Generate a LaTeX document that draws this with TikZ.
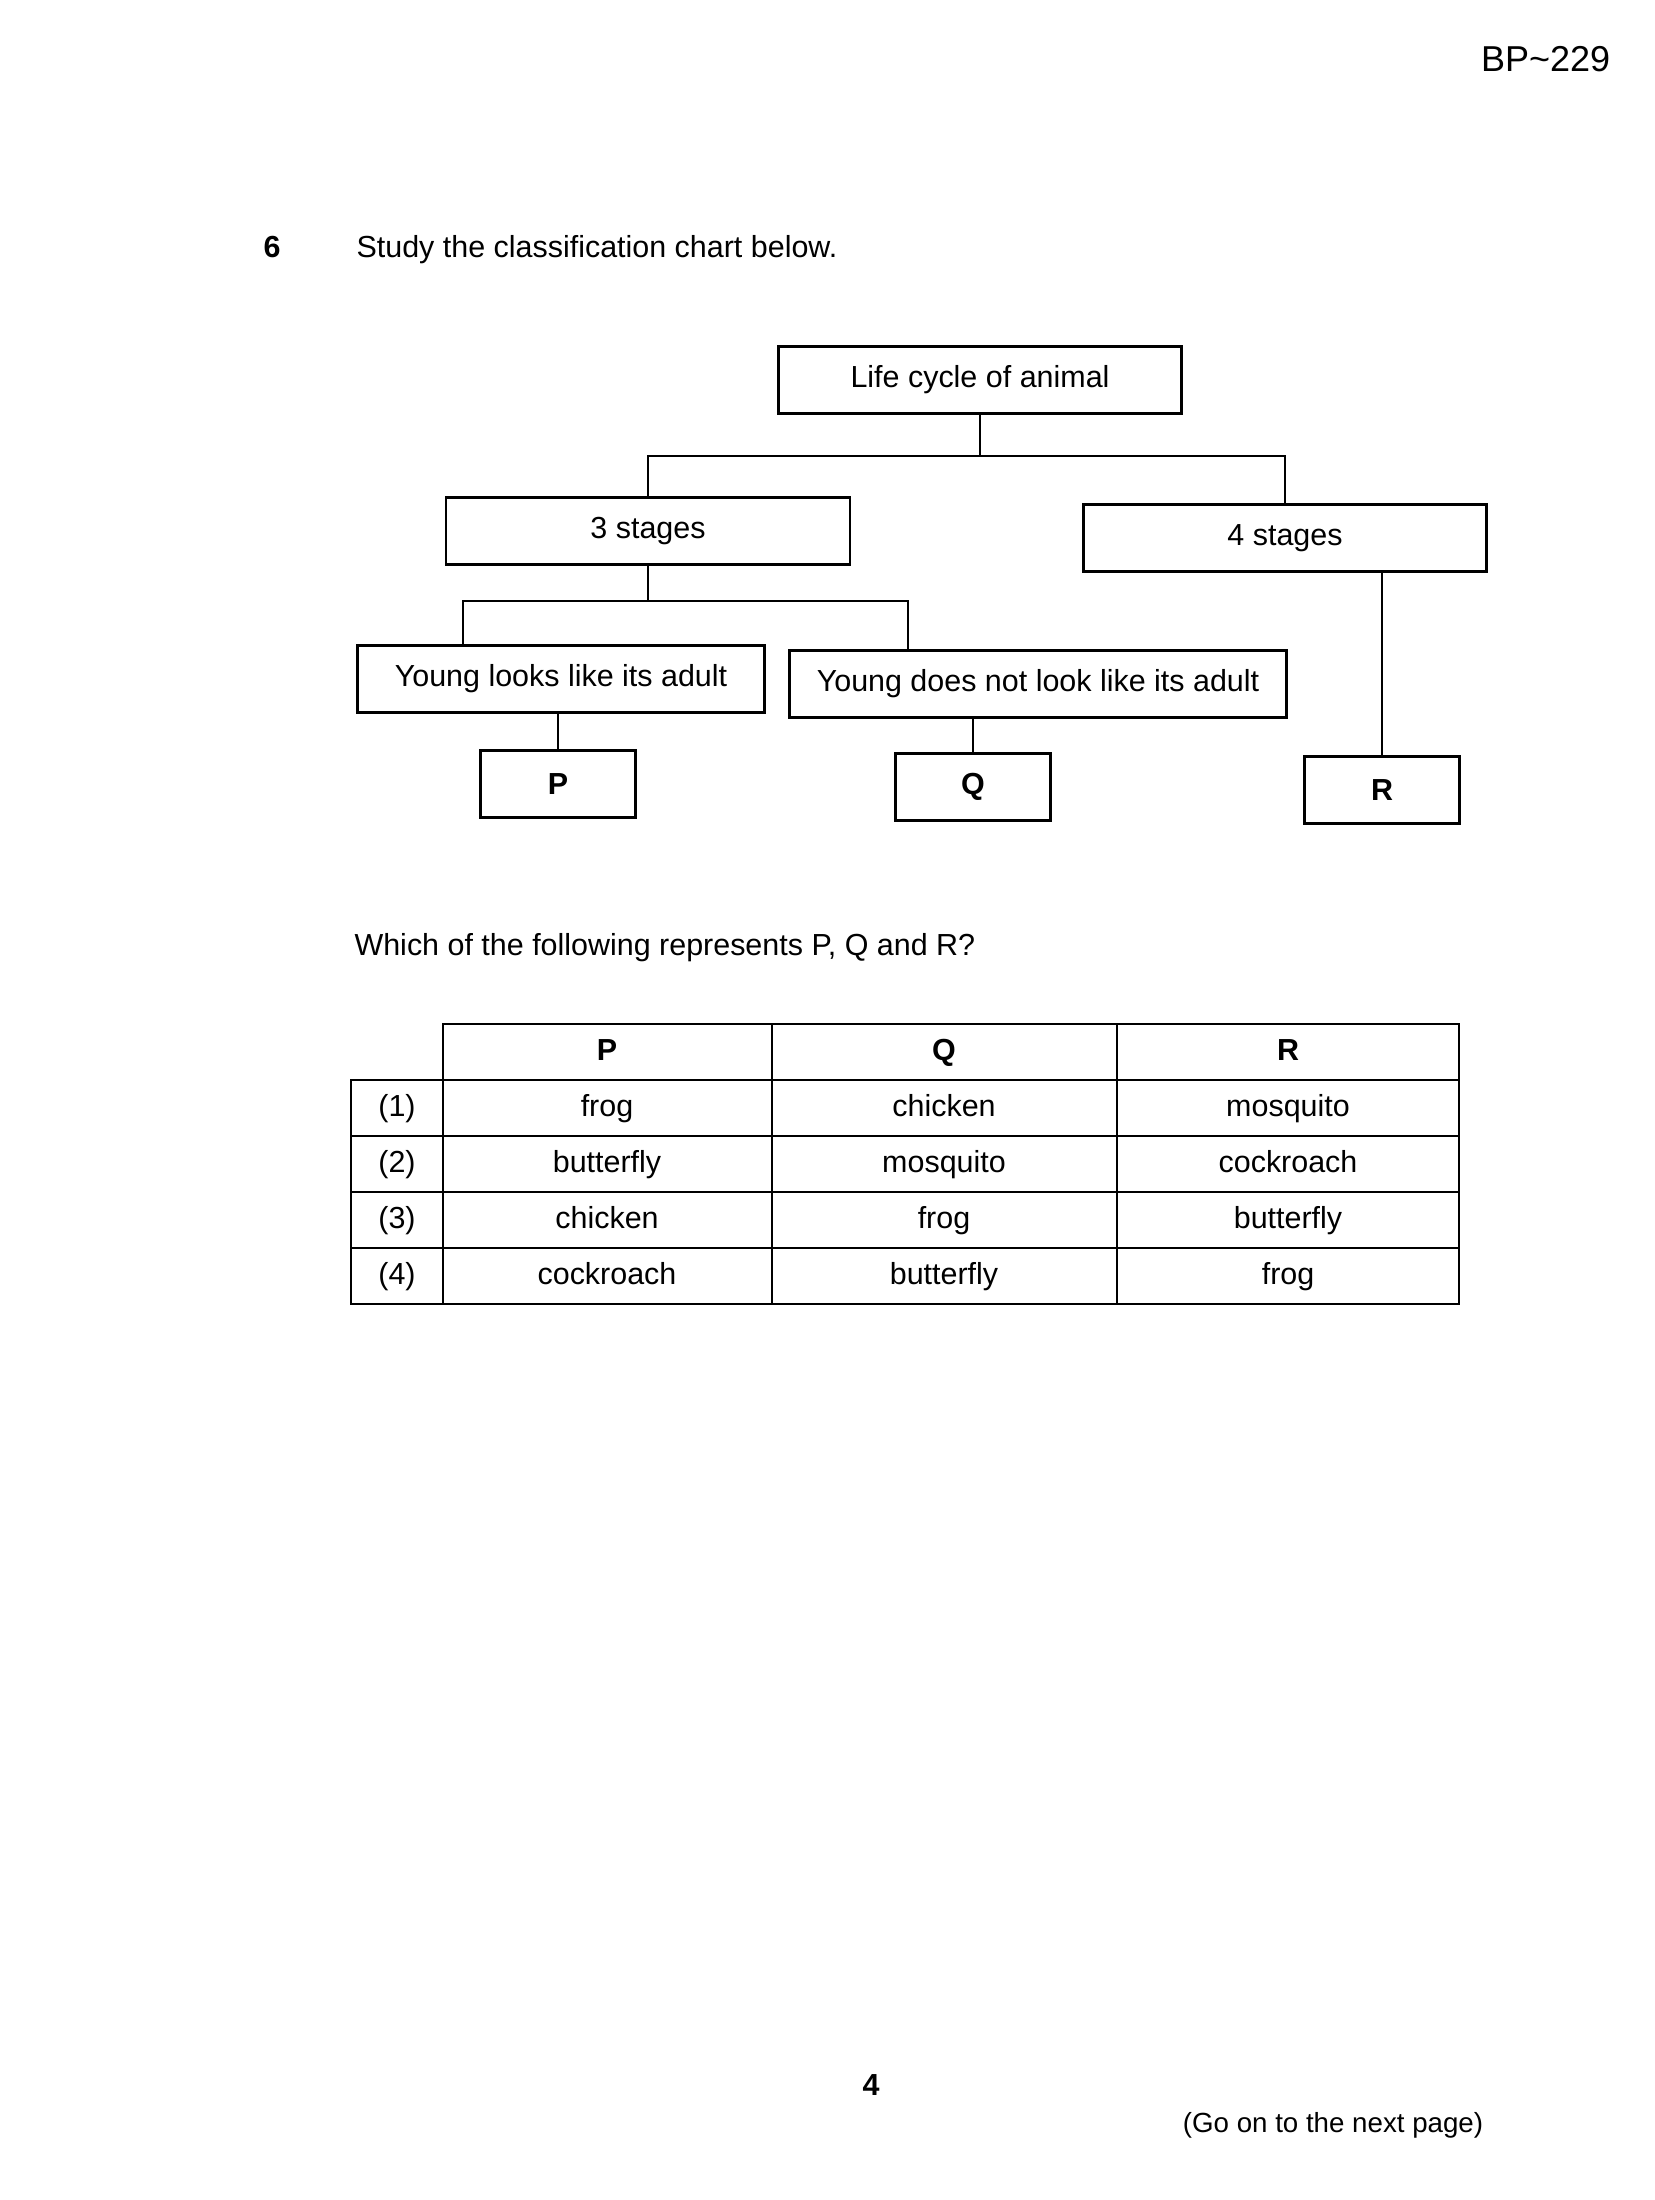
\documentclass[tikz,border=0pt]{standalone}
\usepackage{fontspec}
\setmainfont{Liberation Sans}
\usepackage{tikz}

\begin{document}
\begin{tikzpicture}[
    x=0.0127cm, y=-0.0127cm,
    txt/.style={inner sep=0pt, font=\fontsize{11}{13}\selectfont},
    cell/.style={txt, text height=1.6ex, text depth=0.45ex},
    box/.style={rectangle, draw, line width=1pt, minimum width=#1, minimum height=0.85cm, inner sep=0pt, font=\fontsize{11}{13}\selectfont},
    leaf/.style={box=1.97cm, font=\fontsize{11}{13}\selectfont\bfseries},
    link/.style={line width=0.7pt},
    grid/.style={line width=0.9pt}
]
\useasboundingbox (0,0) rectangle (1654,2200);

% Page header and question
\node[anchor=east, font=\fontsize{13}{15}\selectfont] (code) at (1620,59) {BP\textasciitilde229};
\node[txt] (qnum) at (272,247) {\textbf{6}};
\node[txt, anchor=west] (qtext) at (356,250) {Study the classification chart below.};

% Classification chart
\node[box=5.11cm] (root) at (980,380) {Life cycle of animal};
\node[box=5.13cm] (three) at (648,531) {3 stages};
\node[box=5.12cm] (four) at (1285,538) {4 stages};
\node[box=5.17cm] (like) at (561,679) {Young looks like its adult};
\node[box=6.31cm] (notlike) at (1038,684) {Young does not look like its adult};
\node[leaf] (P) at (558,784) {P};
\node[leaf] (Q) at (973,787) {Q};
\node[leaf] (R) at (1382,790) {R};

% Branch lines
\coordinate (bus1) at (980,456);
\coordinate (bus2) at (648,601);
\draw[link] (root) -- (bus1);
\draw[link] (three) |- (bus1) -| (four);
\draw[link] (three) -- (bus2);
\draw[link] ([xshift=-1.245cm]like.north) |- (bus2) -| ([xshift=-1.651cm]notlike.north);
\draw[link] (P) -- (P |- like.south);
\draw[link] (Q) -- (Q |- notlike.south);
\draw[link] (R) -- (R |- four.south);

% Options table
\node[txt, anchor=west] (ask) at (354,948) {Which of the following represents P, Q and R?};
\draw[grid] (443,1024) rectangle (1459,1304);
\draw[grid] (351,1080) rectangle (443,1304);
\foreach \y in {1080,1136,1192,1248} \draw[grid] (351,\y) -- (1459,\y);
\foreach \x in {772,1117} \draw[grid] (\x,1024) -- (\x,1304);
\foreach \name/\x in {P/607,Q/944,R/1288}
    \node[cell] (head\name) at (\x,1052) {\textbf{\name}};
\foreach \p/\q/\r [count=\i] in {frog/chicken/mosquito, butterfly/mosquito/cockroach, chicken/frog/butterfly, cockroach/butterfly/frog} {
    \pgfmathsetmacro{\yy}{1052+56*\i}
    \node[cell] (opt\i) at (397,\yy) {(\i)};
    \node[cell] (p\i) at (607,\yy) {\p};
    \node[cell] (q\i) at (944,\yy) {\q};
    \node[cell] (r\i) at (1288,\yy) {\r};
}

% Footer
\node[txt] (pagenum) at (871,2085) {\textbf{4}};
\node[txt, font=\fontsize{10}{12}\selectfont] (goon) at (1333,2125) {(Go on to the next page)};
\end{tikzpicture}
\end{document}
